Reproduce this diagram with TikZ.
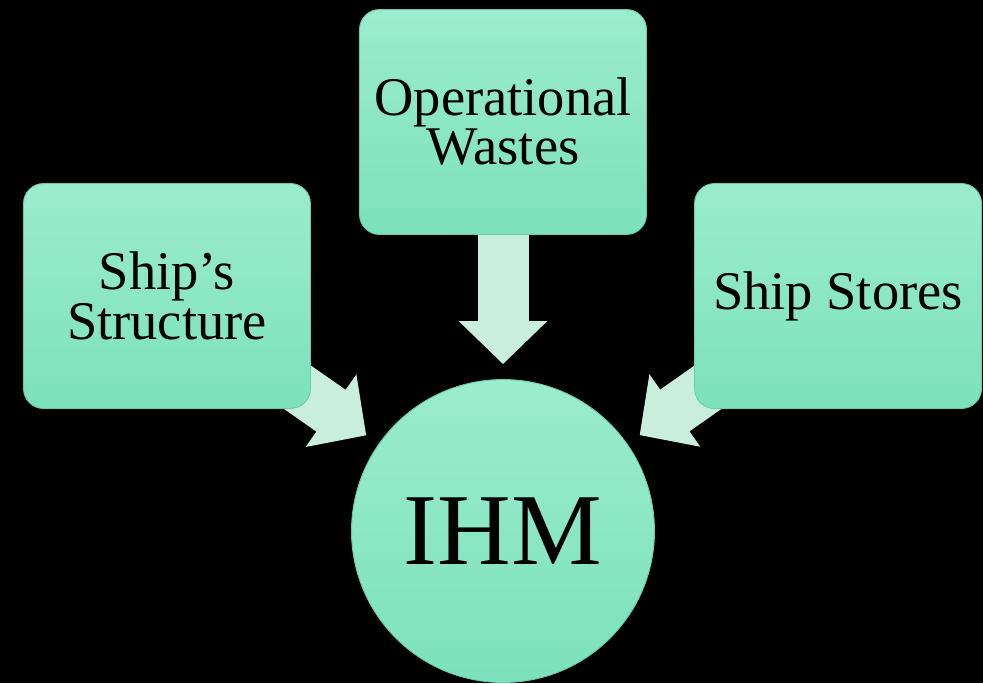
\documentclass[tikz,border=0pt]{standalone}
\usepackage{fontspec}
\setmainfont{Liberation Serif}
\usepackage{tikz}
\usetikzlibrary{arrows.meta,backgrounds}

\definecolor{boxtop}{RGB}{155,236,207}
\definecolor{boxbot}{RGB}{124,225,189}
\definecolor{boxedge}{RGB}{104,204,168}
\definecolor{flowfill}{RGB}{201,238,221}

\begin{document}
\begin{tikzpicture}[x=0.02cm,y=-0.02cm,
	source/.style={rounded corners=0.4cm, top color=boxtop, bottom color=boxbot,
		draw=boxedge, line width=0.5pt, minimum width=5.74cm, minimum height=4.5cm,
		align=center, font=\fontsize{31}{26}\selectfont},
	hub/.style={circle, top color=boxtop, bottom color=boxbot, draw=boxedge,
		line width=0.5pt, minimum size=6.06cm, inner sep=0pt,
		font=\fontsize{58}{60}\selectfont},
	flow/.style={draw=flowfill, line width=1.02cm,
		-{Triangle[width=1.72cm,length=0.86cm,fill=flowfill]}, shorten >=0.3cm}]

\useasboundingbox (0,0) rectangle (983,683);

% the three inputs
\node[source] (ops) at (503,122) {Operational\\Wastes};
\node[source] (struct) at (167,296) {Ship’s\\Structure};
\node[source] (stores) at (838,296) {Ship Stores};

% inventory
\node[hub] (ihm) at (503,531) {IHM};

% black page and block arrows behind the boxes
\begin{pgfonlayer}{background}
\fill[black] (0,0) rectangle (983,683);
\draw[flow] (ops.center) -- (ihm);
\draw[flow] (struct.center) -- (ihm);
\draw[flow] (stores.center) -- (ihm);
\end{pgfonlayer}

\end{tikzpicture}
\end{document}
